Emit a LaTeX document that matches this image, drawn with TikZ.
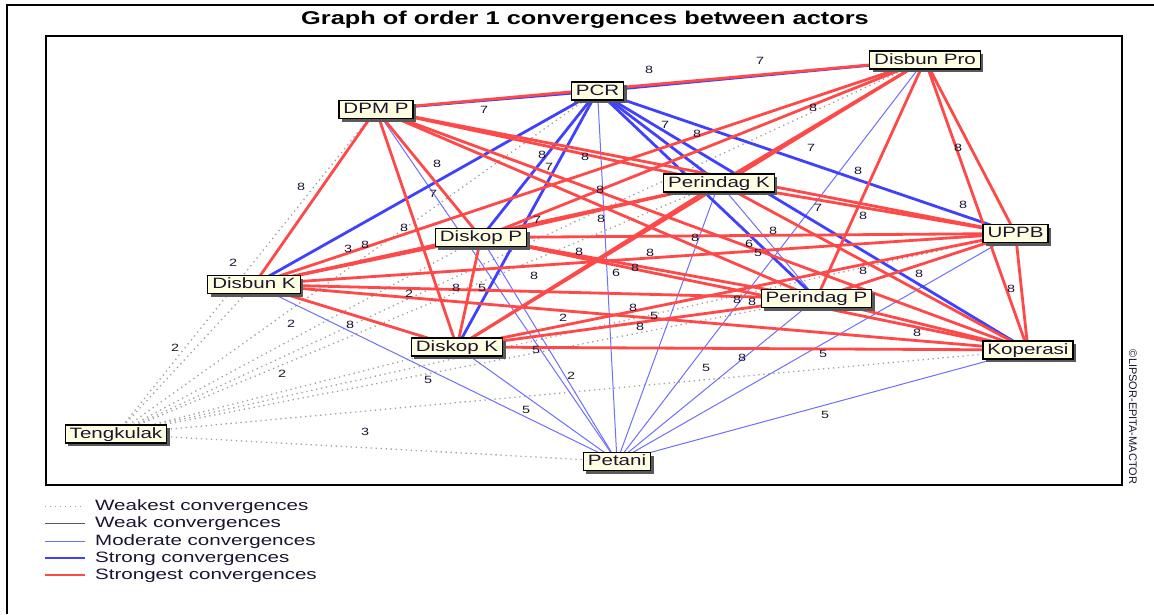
\documentclass[tikz,border=0pt]{standalone}
\usepackage{fontspec}
\setmainfont{Liberation Sans}[FakeStretch=1.37]
\newfontfamily\copyfont{Liberation Sans}
\usetikzlibrary{shadows,backgrounds}
\definecolor{redS}{RGB}{255,72,72}
\definecolor{blueS}{RGB}{64,64,255}
\definecolor{blueM}{RGB}{110,110,255}
\definecolor{grayW}{RGB}{160,160,160}
\definecolor{grayK}{RGB}{90,90,90}
\definecolor{txt}{RGB}{30,20,50}
\definecolor{nodefill}{RGB}{255,255,225}
\begin{document}
\begin{tikzpicture}[x=1pt,y=-1pt,
  actor/.style={draw=black, line width=1.3pt, fill=nodefill, inner xsep=4.5pt, inner ysep=0pt,
    minimum height=18pt, text height=10.8pt, text depth=2.6pt, text=txt,
    font=\fontsize{15}{15}\selectfont,
    drop shadow={shadow xshift=3pt, shadow yshift=-3pt, fill=black!65, opacity=1}},
  s8/.style={draw=redS, line width=2.8pt},
  s7/.style={draw=blueS, line width=2.8pt},
  s5/.style={draw=blueM, line width=1pt},
  s4/.style={draw=grayK, line width=1pt},
  s2/.style={draw=grayW, line width=1.3pt, dash pattern=on 1.3pt off 3.7pt},
  val/.style={font=\fontsize{10.5}{10.5}\selectfont, text=txt, inner sep=0pt},
  legtext/.style={font=\fontsize{15}{15}\selectfont, text=txt, anchor=west, inner sep=0pt}]
\useasboundingbox (0,0) rectangle (1154,614);

% actors
\node[actor] (DBP) at (925,60) {Disbun Pro};
\node[actor] (PCR) at (597.5,91) {PCR};
\node[actor] (DPM) at (376,109.5) {DPM P};
\node[actor] (PerK) at (719,183) {Perindag K};
\node[actor] (UPPB) at (1015.5,233.5) {UPPB};
\node[actor] (DisP) at (481,237.5) {Diskop P};
\node[actor] (DisK) at (254,284.5) {Disbun K};
\node[actor] (PerP) at (816.5,298.5) {Perindag P};
\node[actor] (DiskK) at (457,347) {Diskop K};
\node[actor] (Kop) at (1028,350) {Koperasi};
\node[actor] (Teng) at (116,434) {Tengkulak};
\node[actor] (Pet) at (617,461.5) {Petani};

\begin{pgfonlayer}{background}
\fill[white] (0,0) rectangle (1154,614);
\draw[line width=1.3pt] (7,614) -- (7,5) -- (1154,5);
\draw[line width=1.3pt] (46,36) rectangle (1122,485);
% weakest
\foreach \b in {DBP,PCR,DPM,PerK,UPPB,DisP,DisK,PerP,DiskK,Kop,Pet}
  \draw[s2] (Teng.center) -- (\b.center);
% moderate
\foreach \a in {DBP,PCR,DPM,PerK,UPPB,DisP,DisK,PerP,DiskK,Kop}
  \draw[s5] (\a.center) -- (Pet.center);
\draw[s5] (PerK.center) -- (PerP.center);
% strong
\foreach \b in {DBP,DPM,PerK,UPPB,DisP,DisK,PerP,DiskK,Kop}
  \draw[s7] (PCR.center) -- (\b.center);
% strongest
\foreach \a/\b in {DBP/DPM,DBP/PerK,DBP/UPPB,DBP/DisP,DBP/DisK,DBP/PerP,DBP/DiskK,DBP/Kop,
  DPM/PerK,DPM/UPPB,DPM/DisP,DPM/DisK,DPM/PerP,DPM/DiskK,DPM/Kop,
  PerK/UPPB,PerK/DisP,PerK/DisK,PerK/DiskK,PerK/Kop,
  UPPB/DisP,UPPB/DisK,UPPB/PerP,UPPB/DiskK,UPPB/Kop,
  DisP/DisK,DisP/PerP,DisP/DiskK,DisP/Kop,
  DisK/PerP,DisK/DiskK,DisK/Kop,PerP/DiskK,PerP/Kop,DiskK/Kop}
  \draw[s8] (\a.center) -- (\b.center);
\end{pgfonlayer}

% values
\foreach \x/\y/\v [count=\i] in {649/70/8,760/61/7,484/110/7,813/108/8,665/125/7,697/134/8,
  811/148/7,958/148/8,542/155/8,549/167/7,585/157/8,437/164/8,858/171/8,301/187/8,
  433/194/7,600/190/8,963/205/8,818/208/7,863/216/8,601/219/8,537/220/7,404/228/8,
  773/231/8,695/238/8,749/244/6,758/253/5,579/252/8,650/253/8,348/249/3,365/245/8,
  233/263/2,635/268/8,616/273/6,534/276/8,863/271/8,919/274/8,456/288/8,482/288/5,
  409/294/2,1011/289/8,737/300/8,752/302/8,633/308/8,654/316/5,563/318/2,640/327/8,
  291/324/2,350/325/8,917/333/8,175/348/2,536/350/5,823/354/5,742/358/8,706/368/5,
  282/374/2,571/376/2,428/380/5,526/410/5,365/432/3,825/415/5}
  \node[val] (v\i) at (\x,\y) {\v};

% title and credit
\node[font=\bfseries\fontsize{18.5}{18.5}\selectfont, text=black] (title) at (585,20) {Graph of order 1 convergences between actors};
\node[font=\copyfont\fontsize{11}{11}\selectfont, text=txt, rotate=-90] (credit) at (1133,417) {©LIPSOR-EPITA-MACTOR};

% legend
\coordinate (la1) at (45,506); \coordinate (lb1) at (85,506);
\coordinate (la2) at (45,523); \coordinate (lb2) at (85,523);
\coordinate (la3) at (45,541); \coordinate (lb3) at (85,541);
\coordinate (la4) at (45,558); \coordinate (lb4) at (85,558);
\coordinate (la5) at (45,575); \coordinate (lb5) at (85,575);
\draw[s2, line width=1pt] (la1) -- (lb1);
\draw[s4] (la2) -- (lb2);
\draw[s5] (la3) -- (lb3);
\draw[s7] (la4) -- (lb4);
\draw[s8] (la5) -- (lb5);
\node[legtext] (t1) at (95,507) {Weakest convergences};
\node[legtext] (t2) at (95,524) {Weak convergences};
\node[legtext] (t3) at (95,542) {Moderate convergences};
\node[legtext] (t4) at (95,559) {Strong convergences};
\node[legtext] (t5) at (95,576) {Strongest convergences};
\end{tikzpicture}
\end{document}
